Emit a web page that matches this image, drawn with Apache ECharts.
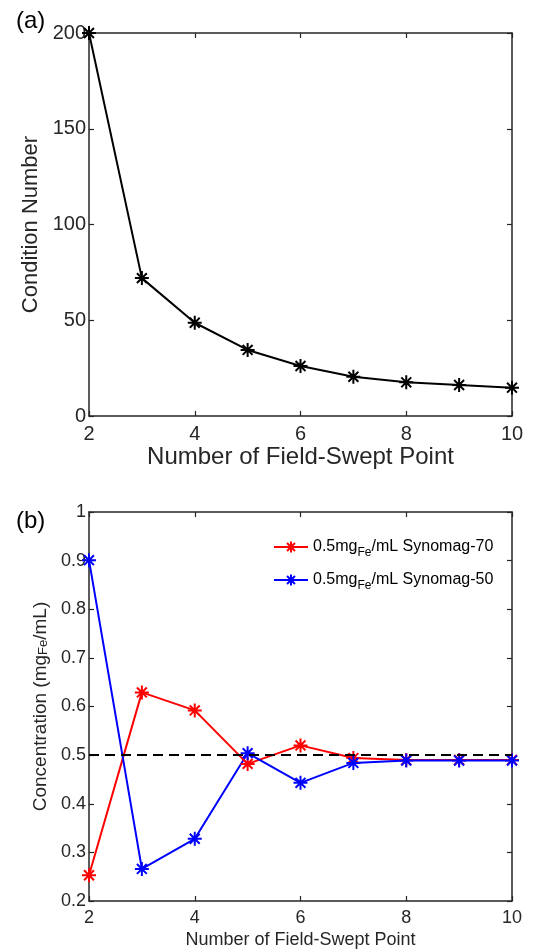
<!DOCTYPE html>
<html>
<head>
<meta charset="utf-8">
<script src="https://cdn.jsdelivr.net/npm/echarts@6/dist/echarts.min.js"></script>
<style>html,body{margin:0;padding:0;background:#fff;}#c{width:551px;height:950px;}</style>
</head>
<body>
<div id="c"></div>
<script>
// ---- data ----
const fieldPoints = [2, 3, 4, 5, 6, 7, 8, 9, 10];
const conditionNumber = [200, 72, 48.7, 34.5, 26.1, 20.5, 17.6, 16.2, 14.8];
const synomag70 = [0.253, 0.629, 0.592, 0.482, 0.520, 0.494, 0.490, 0.490, 0.490];
const synomag50 = [0.901, 0.266, 0.328, 0.504, 0.443, 0.484, 0.489, 0.489, 0.489];
const referenceLevel = 0.5;
const xTicks = [2, 4, 6, 8, 10];
const yTicksA = [0, 50, 100, 150, 200];
const yTicksB = [0.2, 0.3, 0.4, 0.5, 0.6, 0.7, 0.8, 0.9, 1];
const seriesNames = ['0.5mgFe/mL Synomag-70', '0.5mgFe/mL Synomag-50'];
const legendLabels = ['0.5mg{sub|Fe}/mL Synomag-70', '0.5mg{sub|Fe}/mL Synomag-50'];

const pair = (ys) => fieldPoints.map((x, i) => [x, ys[i]]);
const AX = '#262626';
const FONT = 'Liberation Sans, Arial, sans-serif';
const star = 'path://M0,-1L0,1M-1,0L1,0M-0.707,-0.707L0.707,0.707M-0.707,0.707L0.707,-0.707';

function xAx(grid, show, withName) {
  const top = grid === 0;
  return {
    type: 'value', gridIndex: grid, min: xTicks[0], max: xTicks[xTicks.length - 1], interval: 2,
    position: show ? 'bottom' : 'top',
    axisLine: { onZero: false, lineStyle: { color: AX, width: 1.5 } },
    axisTick: { inside: true, length: 5, lineStyle: { color: AX, width: 1.2 } },
    axisLabel: { show: show, color: AX, fontSize: top ? 20 : 18, fontFamily: FONT, margin: 8 },
    splitLine: { show: false },
    name: withName ? 'Number of Field-Swept Point' : '',
    nameLocation: 'middle', nameGap: top ? 29 : 30,
    nameTextStyle: { color: AX, fontSize: top ? 24 : 18, fontFamily: FONT }
  };
}
function yAx(grid, show, min, max, interval, name) {
  const top = grid === 0;
  return {
    type: 'value', gridIndex: grid, min: min, max: max, interval: interval,
    position: show ? 'left' : 'right',
    axisLine: { show: true, onZero: false, lineStyle: { color: AX, width: 1.5 } },
    axisTick: { show: true, inside: true, length: 5, lineStyle: { color: AX, width: 1.2 } },
    axisLabel: { show: show, color: AX, fontSize: top ? 20 : 18, fontFamily: FONT, margin: 3 },
    splitLine: { show: false },
    name: name || '', nameLocation: 'middle', nameGap: top ? 41 : 38,
    nameTextStyle: {
      color: AX, fontSize: top ? 22 : 19, fontFamily: FONT,
      rich: { sub: { fontSize: 13, fontFamily: FONT, color: AX, verticalAlign: 'bottom', lineHeight: 12 } }
    }
  };
}

const chart = echarts.init(document.getElementById('c'), null, { renderer: 'canvas' });
chart.setOption({
  backgroundColor: '#fff',
  animation: false,
  title: [
    { text: '(a)', left: 11, top: 4, textStyle: { fontSize: 24, fontWeight: 'normal', color: '#000', fontFamily: FONT } },
    { text: '(b)', left: 11, top: 504, textStyle: { fontSize: 24, fontWeight: 'normal', color: '#000', fontFamily: FONT } }
  ],
  grid: [
    { left: 89, right: 39, top: 33, height: 383 },
    { left: 89, right: 39, top: 512, height: 390 }
  ],
  xAxis: [xAx(0, true, true), xAx(1, true, true), xAx(0, false, false), xAx(1, false, false)],
  yAxis: [
    yAx(0, true, 0, 200, 50, 'Condition Number'),
    yAx(1, true, 0.2, 1, 0.1, 'Concentration (mg{sub|Fe}/mL)'),
    yAx(0, false, 0, 200, 50, ''),
    yAx(1, false, 0.2, 1, 0.1, '')
  ],
  legend: {
    data: seriesNames, orient: 'vertical', left: 268, top: 530,
    itemWidth: 34, itemHeight: 14, itemGap: 9,
    formatter: (name) => legendLabels[seriesNames.indexOf(name)],
    textStyle: {
      color: '#000', fontSize: 16, fontFamily: FONT, lineHeight: 24,
      rich: { sub: { fontSize: 12, fontFamily: FONT, color: '#000', verticalAlign: 'bottom', lineHeight: 12 } }
    }
  },
  series: [
    {
      type: 'line', xAxisIndex: 0, yAxisIndex: 0, data: pair(conditionNumber),
      symbol: star, symbolSize: 14,
      lineStyle: { color: '#000', width: 2 },
      itemStyle: { color: '#000', borderColor: '#000', borderWidth: 2 }
    },
    {
      name: seriesNames[0], type: 'line', xAxisIndex: 1, yAxisIndex: 1, data: pair(synomag70),
      symbol: star, symbolSize: 14,
      lineStyle: { color: '#ff0000', width: 2 },
      itemStyle: { color: '#ff0000', borderColor: '#ff0000', borderWidth: 2 },
      markLine: {
        silent: true, symbol: 'none', label: { show: false },
        lineStyle: { color: '#000', type: [10, 6], width: 2 },
        data: [{ yAxis: referenceLevel }]
      }
    },
    {
      name: seriesNames[1], type: 'line', xAxisIndex: 1, yAxisIndex: 1, data: pair(synomag50),
      symbol: star, symbolSize: 14,
      lineStyle: { color: '#0000ff', width: 2 },
      itemStyle: { color: '#0000ff', borderColor: '#0000ff', borderWidth: 2 }
    }
  ]
});
</script>
</body>
</html>
